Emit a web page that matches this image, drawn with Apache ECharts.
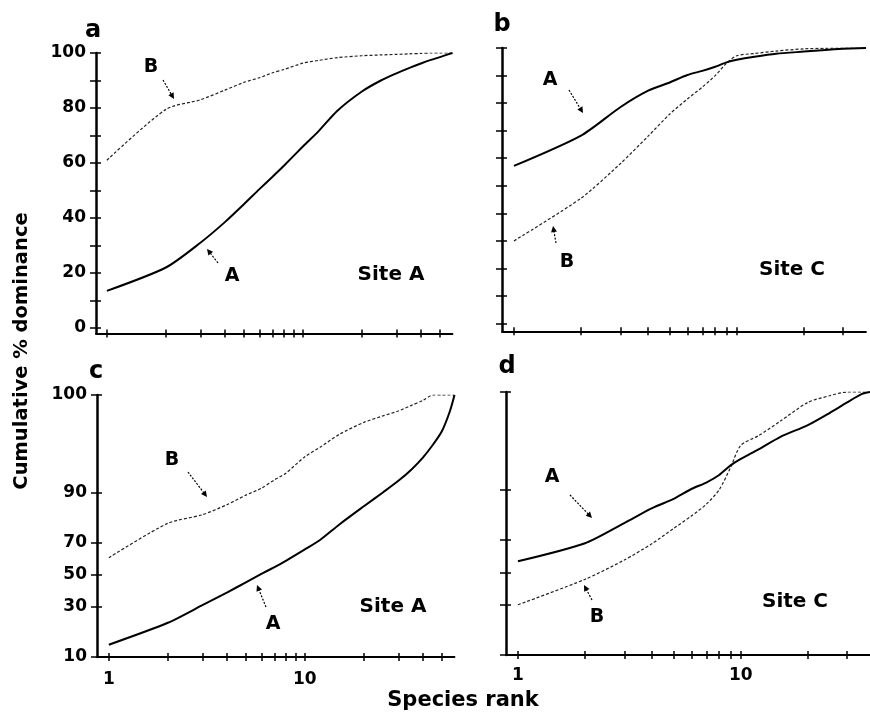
<!DOCTYPE html>
<html>
<head>
<meta charset="utf-8">
<script src="https://cdn.jsdelivr.net/npm/echarts@6.0.0/dist/echarts.min.js"></script>
<style>
  html, body { margin: 0; padding: 0; background: #fff; }
  #chart { width: 870px; height: 715px; }
</style>
</head>
<body>
<div id="chart"></div>
<script>
// species rank vs cumulative % dominance
var ranksSiteA = [1, 2, 3, 4, 5, 6, 7, 8, 10, 12, 15, 20, 25, 30, 35, 40, 45, 50, 55, 58];
var siteA_A = [13.5, 22, 31, 38.5, 45, 50.5, 55, 59, 66, 71.5, 79, 86, 90, 92.6, 94.6, 96.2, 97.5, 98.5, 99.5, 100];
var siteA_B = [61, 79.5, 83, 86.5, 89.3, 91, 92.8, 94, 96.3, 97.3, 98.3, 99, 99.3, 99.5, 99.7, 99.85, 100, 100, 100, 100];

var ranksSiteC = [1, 2, 3, 4, 5, 6, 7, 8, 9, 10, 12, 15, 20, 25, 30, 35, 38];
var siteC_A = [57.2, 68.2, 78.5, 84.5, 87.5, 90.2, 91.7, 93.2, 94.8, 95.7, 96.8, 97.9, 98.7, 99.3, 99.7, 99.95, 100];
var siteC_B = [30, 45.5, 58, 68, 76, 81.5, 85.8, 90, 94.5, 97.2, 98, 98.9, 99.7, 99.9, 100, 100, 100];

// tick marks / labels
var rankTicks = [1, 2, 3, 4, 5, 6, 7, 8, 9, 10, 20, 30, 40, 50];
var rankLabels = [1, 10];
var pctTicks = [0, 10, 20, 30, 40, 50, 60, 70, 80, 90, 100];
var pctLabels = [0, 20, 40, 60, 80, 100];
var modTicks = [10, 30, 50, 70, 90, 100];

var FONT = '"DejaVu Sans", sans-serif';

// modified logistic transform used for the lower panels
function mod(v) { return Math.log((1 + v) / (101 - v)); }
function unmod(t) { var e = Math.exp(t); return (101 * e - 1) / (1 + e); }

function pairs(xs, ys, f) {
  return xs.map(function (x, i) { return [x, f ? f(ys[i]) : ys[i]]; });
}

var grids = [
  { left: 96, top: 53, width: 356.5, height: 280.5 },
  { left: 502, top: 48, width: 364, height: 283.3 },
  { left: 97, top: 395, width: 357.5, height: 262 },
  { left: 506, top: 392, width: 364, height: 263 }
];
grids.forEach(function (g) { g.outerBoundsMode = 'none'; g.containLabel = false; });

function xPair(i, min, max, labels, margin) {
  var base = { gridIndex: i, type: 'log', logBase: 10, min: min, max: max, position: 'bottom',
    splitLine: { show: false }, minorTick: { show: false } };
  return [
    Object.assign({}, base, {
      axisLine: { show: true, onZero: false, lineStyle: { color: '#000', width: 1.8 } },
      axisTick: { show: true, inside: false, length: 4, customValues: rankTicks, lineStyle: { color: '#000', width: 1.5 } },
      axisLabel: { show: labels, customValues: rankLabels, margin: margin || 11, color: '#000',
        fontSize: 17, fontWeight: 'bold', fontFamily: FONT }
    }),
    Object.assign({}, base, {
      axisLine: { show: false, onZero: false },
      axisTick: { show: true, inside: true, length: 4, customValues: rankTicks, lineStyle: { color: '#000', width: 1.5 } },
      axisLabel: { show: false }
    })
  ];
}

function yPair(i, min, max, ticks, labels, fmt) {
  var base = { gridIndex: i, type: 'value', min: min, max: max, position: 'left', splitLine: { show: false } };
  return [
    Object.assign({}, base, {
      axisLine: { show: true, onZero: false, lineStyle: { color: '#000', width: 2.5 } },
      axisTick: { show: true, inside: false, length: 6, customValues: ticks, lineStyle: { color: '#000', width: 1.5 } },
      axisLabel: labels ? { show: true, customValues: labels, margin: 10, color: '#000',
        fontSize: 17, fontWeight: 'bold', fontFamily: FONT, formatter: fmt } : { show: false }
    }),
    Object.assign({}, base, {
      axisLine: { show: false, onZero: false },
      axisTick: { show: true, inside: true, length: 5, customValues: ticks, lineStyle: { color: '#000', width: 1.5 } },
      axisLabel: { show: false }
    })
  ];
}

var modFmt = function (v) { return String(Math.round(unmod(v))); };
var modT = modTicks.map(mod);

var xAxes = [].concat(
  xPair(0, 0.88, 58, false),
  xPair(1, 0.884, 38, false),
  xPair(2, 0.87, 58, true, 14),
  xPair(3, 0.884, 38, true, 12)
);
var yAxes = [].concat(
  yPair(0, -2, 100, pctTicks, pctLabels),
  yPair(1, -2.8, 100, pctTicks, null),
  yPair(2, mod(10), mod(100), modT, modT, modFmt),
  yPair(3, mod(10), mod(100), modT, null)
);

function lineA(i, data) {
  return { type: 'line', xAxisIndex: 2 * i, yAxisIndex: 2 * i, data: data, symbol: 'none', smooth: 0.25,
    silent: true, z: 3, lineStyle: { color: '#000', width: 2 } };
}
function lineB(i, data) {
  return { type: 'line', xAxisIndex: 2 * i, yAxisIndex: 2 * i, data: data, symbol: 'none', smooth: 0.25,
    silent: true, z: 2, lineStyle: { color: '#222', width: 1.2, type: [3, 2] } };
}

var series = [
  lineA(0, pairs(ranksSiteA, siteA_A)),
  lineB(0, pairs(ranksSiteA, siteA_B)),
  lineA(1, pairs(ranksSiteC, siteC_A)),
  lineB(1, pairs(ranksSiteC, siteC_B)),
  lineA(2, pairs(ranksSiteA, siteA_A, mod)),
  lineB(2, pairs(ranksSiteA, siteA_B, mod)),
  lineA(3, pairs(ranksSiteC, siteC_A, mod)),
  lineB(3, pairs(ranksSiteC, siteC_B, mod))
];

function txt(s, x, y, size, rot) {
  return { type: 'text', x: x, y: y, rotation: rot || 0, z: 10,
    style: { text: s, x: 0, y: 0, font: 'bold ' + size + 'px ' + FONT, fill: '#000',
      align: 'center', verticalAlign: 'middle', textAlign: 'center', textVerticalAlign: 'middle' } };
}
function arrow(x1, y1, x2, y2) {
  var a = Math.atan2(y2 - y1, x2 - x1), h = 6, w = 3;
  var c = Math.cos(a), s = Math.sin(a);
  return [
    { type: 'line', z: 10, shape: { x1: x1, y1: y1, x2: x2 - c * 3, y2: y2 - s * 3 },
      style: { stroke: '#000', lineWidth: 1.2, lineDash: [2, 1.5] } },
    { type: 'polygon', z: 10, shape: { points: [[x2, y2],
      [x2 - h * c + w * s, y2 - h * s - w * c], [x2 - h * c - w * s, y2 - h * s + w * c]] },
      style: { fill: '#000' } }
  ];
}

var graphics = [
  txt('a', 93, 31, 24), txt('b', 502, 25, 24), txt('c', 96, 372, 24), txt('d', 507, 367, 24),
  txt('Cumulative % dominance', 22, 351, 19.5, Math.PI / 2),
  txt('Species rank', 463, 701, 21),
  txt('B', 151, 67, 19), txt('A', 232, 276, 19), txt('Site A', 391, 275, 20),
  txt('A', 550, 80, 19), txt('B', 567, 262, 19), txt('Site C', 792, 270, 20),
  txt('B', 172, 460, 19), txt('A', 273, 624, 19), txt('Site A', 393, 607, 20),
  txt('A', 552, 477, 19), txt('B', 597, 617, 19), txt('Site C', 795, 602, 20)
].concat(
  arrow(163, 80, 174, 99), arrow(218, 263, 207, 249),
  arrow(569, 90, 583, 113), arrow(556, 243, 553, 226),
  arrow(188, 472, 207, 497), arrow(266, 607, 257, 585),
  arrow(570, 495, 592, 518), arrow(592, 600, 584, 585)
);

var chart = echarts.init(document.getElementById('chart'));
chart.setOption({
  animation: false,
  backgroundColor: '#fff',
  grid: grids,
  xAxis: xAxes,
  yAxis: yAxes,
  series: series,
  graphic: { elements: graphics }
});
</script>
</body>
</html>
